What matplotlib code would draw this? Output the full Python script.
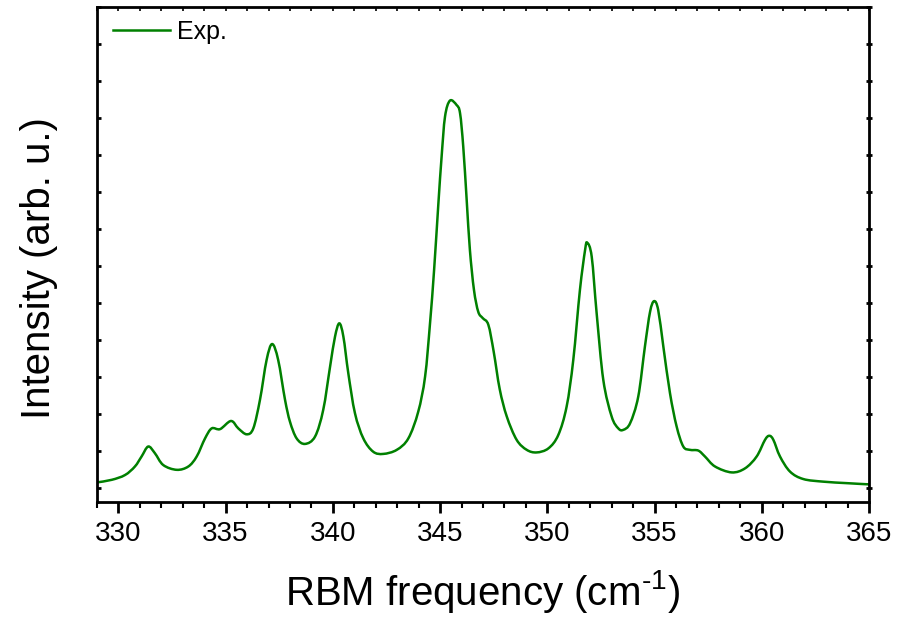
import numpy as np
import matplotlib
matplotlib.use("Agg")
import matplotlib.pyplot as plt
from matplotlib.path import Path
from matplotlib.patches import PathPatch
from matplotlib.lines import Line2D
from matplotlib.ticker import MultipleLocator, NullFormatter

plt.rcParams["font.family"] = ["Liberation Sans", "DejaVu Sans"]
plt.rcParams["mathtext.fontset"] = "custom"
plt.rcParams["mathtext.rm"] = "Liberation Sans"
plt.rcParams["mathtext.default"] = "regular"

# RBM spectrum
freq = [329.0, 329.69, 330.31, 330.77, 331.08, 331.39, 331.70, 332.09, 332.72, 333.26,
        333.65, 334.04, 334.35, 334.74, 335.25, 335.59, 335.98, 336.29, 336.60, 336.91,
        337.17, 337.45, 337.77, 338.00, 338.31, 338.70, 339.17, 339.55, 339.87, 340.10,
        340.30, 340.49, 340.72, 341.03, 341.42, 341.88, 342.35, 342.98, 343.52, 343.98,
        344.30, 344.53, 344.72, 344.92, 345.07, 345.23, 345.46, 345.77, 345.93, 346.08,
        346.24, 346.39, 346.58, 346.78, 346.99, 347.25, 347.50, 347.78, 348.11, 348.57,
        349.04, 349.50, 350.05, 350.51, 350.90, 351.21, 351.52, 351.76, 351.86, 352.07,
        352.30, 352.61, 353.00, 353.31, 353.54, 353.86, 354.24, 354.55, 354.79, 354.98,
        355.17, 355.41, 355.72, 356.03, 356.34, 356.65, 357.04, 357.35, 357.82, 358.60,
        359.22, 359.76, 360.15, 360.35, 360.54, 360.85, 361.32, 361.94, 362.87, 363.96,
        364.89, 365.0]
intensity = [0.15, 0.22, 0.35, 0.58, 0.85, 1.12, 0.94, 0.62, 0.49, 0.58,
             0.85, 1.34, 1.61, 1.59, 1.81, 1.61, 1.45, 1.61, 2.38, 3.46,
             3.89, 3.46, 2.38, 1.79, 1.34, 1.19, 1.39, 2.11, 3.28, 4.09,
             4.45, 4.09, 3.10, 2.02, 1.34, 0.98, 0.92, 1.03, 1.34, 2.06,
             3.01, 4.45, 5.89, 7.69, 8.95, 10.04, 10.47, 10.35, 10.13, 9.22,
             7.78, 6.43, 5.35, 4.76, 4.59, 4.41, 3.68, 2.67, 1.93, 1.30,
             1.03, 0.96, 1.07, 1.43, 2.20, 3.46, 5.35, 6.43, 6.63, 6.25,
             4.72, 2.92, 1.93, 1.61, 1.57, 1.75, 2.47, 3.82, 4.76, 5.05,
             4.81, 3.82, 2.56, 1.66, 1.12, 1.03, 1.01, 0.85, 0.58, 0.42,
             0.53, 0.85, 1.30, 1.41, 1.30, 0.85, 0.44, 0.24, 0.17, 0.13,
             0.10, 0.10]

fig = plt.figure(figsize=(8.97, 6.19), dpi=100)
ax = fig.add_axes([0.1081, 0.189, 0.8607, 0.7997])

# smooth (Catmull-Rom as bezier) path through the read points
pts = np.column_stack([freq, intensity])
ext = np.vstack([pts[0], pts, pts[-1]])
verts = [tuple(pts[0])]
codes = [Path.MOVETO]
for i in range(1, len(ext) - 2):
    p0, p1, p2, p3 = ext[i - 1], ext[i], ext[i + 1], ext[i + 2]
    c1 = p1 + (p2 - p0) / 6.0
    c2 = p2 - (p3 - p1) / 6.0
    verts += [tuple(c1), tuple(c2), tuple(p2)]
    codes += [Path.CURVE4] * 3
ax.add_patch(PathPatch(Path(verts, codes), fill=False, edgecolor="green",
                       lw=1.8, capstyle="round", joinstyle="round"))

ax.set_xlim(329, 365)
ax.set_ylim(-0.38, 13.0)

ax.xaxis.set_major_locator(MultipleLocator(5))
ax.xaxis.set_minor_locator(MultipleLocator(1))
ax.yaxis.set_major_locator(MultipleLocator(1))
ax.yaxis.set_major_formatter(NullFormatter())

for sp in ax.spines.values():
    sp.set_linewidth(2.0)

ax.tick_params(axis="x", which="major", direction="out", length=8, width=2,
               labelsize=20, pad=6)
ax.tick_params(axis="x", which="minor", direction="out", length=4.5, width=1.5)
ax.tick_params(axis="y", which="major", direction="in", length=3, width=2)

# top and right: short ticks, no labels
top = ax.secondary_xaxis("top")
top.xaxis.set_major_locator(MultipleLocator(1))
top.tick_params(direction="in", length=3, width=1.2, labelsize=0)
top.xaxis.set_major_formatter(NullFormatter())
right = ax.secondary_yaxis("right")
right.yaxis.set_major_locator(MultipleLocator(1))
right.tick_params(direction="inout", length=4, width=2)
right.yaxis.set_major_formatter(NullFormatter())

ax.set_xlabel(r"RBM frequency (cm$^{\text{-1}}$)", fontsize=29, labelpad=15)
ax.set_ylabel("Intensity (arb. u.)", fontsize=29)
ax.yaxis.set_label_coords(-0.05, 0.473)

handle = Line2D([], [], color="green", lw=1.8)
ax.legend([handle], ["Exp."], loc="upper left", bbox_to_anchor=(0.0078, 0.994),
          frameon=False, fontsize=18, handlelength=2.28, borderaxespad=0,
          handletextpad=0.28)

fig.savefig("out.png", dpi=100)
